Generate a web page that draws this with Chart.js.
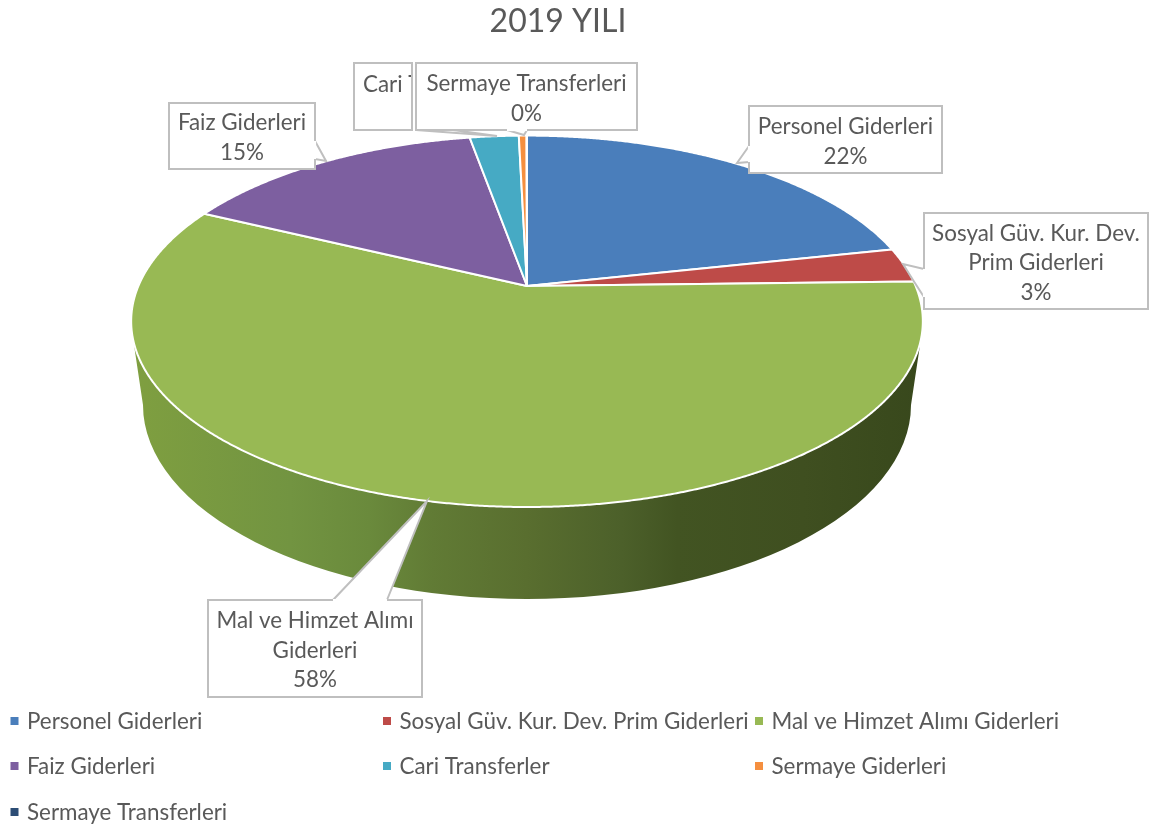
<!DOCTYPE html>
<html>
<head>
<meta charset="utf-8">
<style>html,body{margin:0;padding:0;background:#fff}canvas{display:block}</style>
<script src="https://cdn.jsdelivr.net/npm/chart.js@4/dist/chart.umd.min.js"></script>
</head>
<body>
<canvas id="c" width="1153" height="828"></canvas>
<script>
const categories = ["Personel Giderleri","Sosyal Güv. Kur. Dev. Prim Giderleri","Mal ve Himzet Alımı Giderleri","Faiz Giderleri","Cari Transferler","Sermaye Giderleri","Sermaye Transferleri"];
const shares = [21.6, 3.0, 57.6, 15.0, 2.4, 0.38, 0.02];
const sliceColors = ["#4a7ebb","#be4b48","#98b954","#7d5fa0","#46aac4","#f58f3f","#2c4d75"];
const titleText = "2019 YILI";

const FONT = "Lato";
const TEXT = "#595959", FRAME = "#bfbfbf";
const FS = 22.4, LH = 29.7;
const ASPECT = 2.171, PERSP = 0.19;
const WALL = {dy: 119, rx: 384, ry: 194, topY: 345};
const WALL_STOPS = [[0,"#7f9f40"],[0.2,"#729441"],[0.3,"#6a8a3c"],[0.38,"#617b35"],[0.5,"#596e2f"],[0.62,"#4c602a"],[0.69,"#425422"],[0.85,"#3f4f20"],[1,"#38481c"]];

// callouts: box, pointer polygon, text lines
const callouts = [
 {box:[354,63,412,130], ptr:[[416,130],[497,136],[453,130]], lines:["Cari Transferler"], clipRight:412, tl:363},
 {box:[416,63,637,130], ptr:[[507,130],[524,135],[527,130]], lines:["Sermaye Transferleri","0%"]},
 {box:[749,106,942,173], ptr:[[749,146],[737,163],[749,162]], lines:["Personel Giderleri","22%"]},
 {box:[924,213,1148,309], ptr:[[924,269],[903,264],[913,280],[924,297]], lines:["Sosyal Güv. Kur. Dev.","Prim Giderleri","3%"]},
 {box:[169,103,315,169], ptr:[[315,141],[326,161],[315,159]], lines:["Faiz Giderleri","15%"]},
 {box:[208,600,422,697], ptr:[[333,600],[427,501],[387,600]], lines:["Mal ve Himzet Alımı","Giderleri","58%"]}
];
const legendX = [10.5, 383, 755], legendY = [721, 766, 812];

function project(el, a){
  const R = el.outerRadius, d = 1 - PERSP*Math.sin(a);
  return [el.x + R*ASPECT*Math.cos(a)/d, el.y + R*Math.sin(a)/d];
}

function drawCallout(ctx, c){
  const [l,t,r,b] = c.box;
  const p = c.ptr;
  ctx.save();
  ctx.fillStyle = "#fff"; ctx.strokeStyle = FRAME; ctx.lineWidth = 2; ctx.lineJoin = "miter";
  ctx.beginPath(); ctx.rect(l,t,r-l,b-t); ctx.fill(); ctx.stroke();
  ctx.beginPath(); ctx.moveTo(p[0][0],p[0][1]); p.slice(1).forEach(q=>ctx.lineTo(q[0],q[1])); ctx.closePath(); ctx.fill();
  ctx.beginPath(); ctx.moveTo(p[0][0],p[0][1]); p.slice(1).forEach(q=>ctx.lineTo(q[0],q[1])); ctx.stroke();
  ctx.beginPath(); ctx.moveTo(p[0][0],p[0][1]); ctx.lineTo(p[p.length-1][0],p[p.length-1][1]);
  ctx.strokeStyle="#fff"; ctx.lineWidth=2.2; ctx.stroke();
  ctx.restore();
  ctx.save();
  ctx.font = FS+"px "+FONT; ctx.fillStyle = TEXT; ctx.textBaseline="middle";
  if(c.clipRight){
    ctx.beginPath(); ctx.rect(l,t,c.clipRight-l-1,b-t); ctx.clip();
    ctx.textAlign="left"; ctx.fillText(c.lines[0], c.tl, t+22);
  } else {
    ctx.textAlign="center";
    const cx=(l+r)/2, h=c.lines.length*LH, y0=(t+b)/2-h/2+LH/2+2;
    c.lines.forEach((s,i)=>ctx.fillText(s,cx,y0+i*LH));
  }
  ctx.restore();
}

const pie3d = {
  id:"pie3d",
  afterLayout(chart){
    chart.titleBlock.left = 0; chart.titleBlock.right = 1116;
  },
  beforeDatasetsDraw(chart){
    const ctx = chart.ctx, meta = chart.getDatasetMeta(0), els = meta.data;
    const e0 = els[0];
    const front = els.findIndex(e=>e.startAngle<=Math.PI/2 && e.endAngle>=Math.PI/2);
    if(front>=0){
      const cx=e0.x, g=ctx.createLinearGradient(cx-395,0,cx+395,0);
      WALL_STOPS.forEach(s=>g.addColorStop(s[0],s[1]));
      ctx.save();
      ctx.fillStyle=g;
      ctx.beginPath();
      ctx.moveTo(cx+393,WALL.topY);
      ctx.lineTo(cx+WALL.rx,e0.y+WALL.dy);
      ctx.ellipse(cx,e0.y+WALL.dy,WALL.rx,WALL.ry,0,0,Math.PI,false);
      ctx.lineTo(cx-393,WALL.topY);
      ctx.closePath();
      ctx.fill();
      ctx.restore();
    }
    els.forEach((e,i)=>{
      const s=e.startAngle,t=e.endAngle;
      ctx.save();
      ctx.beginPath();
      ctx.moveTo(e.x,e.y);
      const n=Math.max(2,Math.ceil((t-s)/0.005));
      for(let k=0;k<=n;k++){const q=project(e,s+(t-s)*k/n);ctx.lineTo(q[0],q[1]);}
      ctx.closePath();
      ctx.fillStyle=sliceColors[i];
      ctx.fill();
      ctx.strokeStyle="#fff";ctx.lineWidth=2;ctx.lineJoin="round";
      ctx.stroke();
      ctx.restore();
    });
    return false;
  },
  afterDraw(chart){
    const ctx=chart.ctx;
    callouts.forEach(c=>drawCallout(ctx,c));
    ctx.save();
    ctx.font=FS+"px "+FONT;ctx.textBaseline="middle";ctx.textAlign="left";
    categories.forEach((name,i)=>{
      const col=i%3,row=Math.floor(i/3);
      const x=legendX[col],y=legendY[row];
      ctx.fillStyle=sliceColors[i];
      ctx.fillRect(x,y-4,8,8);
      ctx.fillStyle=TEXT;
      ctx.fillText(name,x+16.5,y+1);
    });
    ctx.restore();
  }
};

new Chart(document.getElementById("c"),{
  type:"pie",
  data:{labels:categories,datasets:[{data:shares,backgroundColor:sliceColors,borderColor:"#fff",borderWidth:2}]},
  options:{
    responsive:false,animation:false,
    layout:{padding:{left:0,top:0,right:99,bottom:362}},
    plugins:{
      legend:{display:false},
      tooltip:{enabled:false},
      title:{display:true,text:titleText,color:TEXT,font:{family:FONT,size:32,weight:"normal",lineHeight:1.3},padding:{top:1,bottom:63.4}}
    }
  },
  plugins:[pie3d]
});
</script>
</body>
</html>
